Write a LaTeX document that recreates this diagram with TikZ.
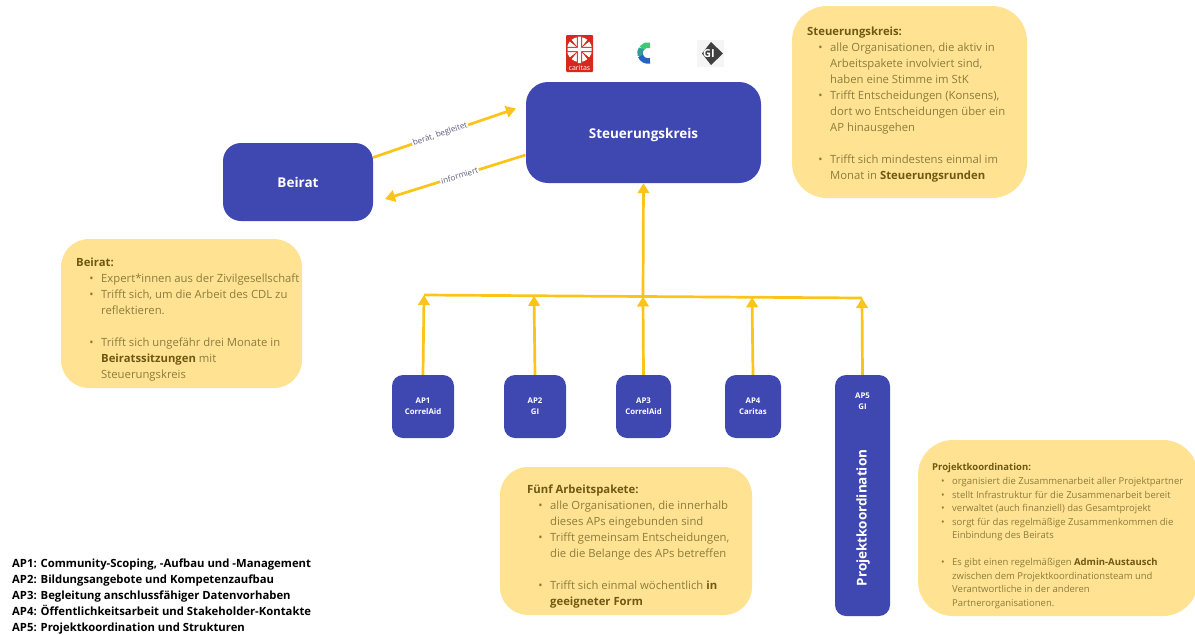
\documentclass[tikz,border=0pt]{standalone}
\usepackage{fontspec}
\setmainfont{Open Sans}
\usetikzlibrary{arrows.meta}
\definecolor{navy}{HTML}{3F48B0}
\definecolor{notefill}{HTML}{FFE393}
\definecolor{notetext}{HTML}{8C7C3C}
\definecolor{notebold}{HTML}{6E5812}
\definecolor{linkc}{HTML}{FCC419}
\definecolor{labelc}{HTML}{5E6080}
\definecolor{carred}{HTML}{D8281E}
\newcommand{\hd}[1]{{\bfseries\color{notebold}#1}}
\newcommand{\bl}{\makebox[0pt][r]{\raisebox{0pt}{\textbullet}\hspace{7.5pt}}}
\tikzset{
  x=1pt,y=-1pt,
  bluebox/.style={fill=navy,text=white,font=\bfseries\fontsize{#1}{#1}\selectfont,align=center,inner sep=0pt},
  notebox/.style={fill=notefill,inner sep=0pt},
  notetxt/.style={anchor=north west,inner sep=0pt,align=left,text=notetext,font=\fontsize{11.3}{16}\selectfont},
  smalltxt/.style={anchor=north west,inner sep=0pt,align=left,text=notetext,font=\fontsize{9.5}{13.55}\selectfont},
  link/.style={draw=linkc,line width=2.7pt,-{Triangle[length=10pt,width=11.5pt]}},
  bar/.style={draw=linkc,line width=2.7pt},
  edgelabel/.style={fill=white,text=labelc,inner sep=1pt,font=\fontsize{8.1}{10}\selectfont}
}
\begin{document}
\begin{tikzpicture}
\useasboundingbox (0,0) rectangle (1195,635);
\fill[white] (0,0) rectangle (1195,635);

% yellow note boxes
\node[notebox,rounded corners=35pt,minimum width=235pt,minimum height=192pt] (nstk) at (909.5,102) {};
\node[notebox,rounded corners=28pt,minimum width=241pt,minimum height=149pt] (nbei) at (181.5,313.5) {};
\node[notebox,rounded corners=28pt,minimum width=252pt,minimum height=148pt] (nfue) at (626,541) {};
\node[notebox,rounded corners=35pt,minimum width=280pt,minimum height=176pt] (npk) at (1058,528) {};

% blue boxes
\node[bluebox=13.5,rounded corners=22pt,minimum width=235pt,minimum height=101pt] (stk) at (643.5,132.5) {};
\node[text=white,inner sep=0pt,font=\bfseries\fontsize{13.5}{13.5}\selectfont] (stkt) at (643.5,134.5) {Steuerungskreis};
\node[bluebox=13.5,rounded corners=18pt,minimum width=150pt,minimum height=78pt] (bei) at (298,182) {};
\node[text=white,inner sep=0pt,font=\bfseries\fontsize{13.5}{13.5}\selectfont] (beit) at (298,182.5) {Beirat};
\node[bluebox=7.8,rounded corners=11pt,minimum width=62pt,minimum height=63pt] (ap1) at (423,406.5) {AP1\\[3pt]CorrelAid};
\node[bluebox=7.8,rounded corners=11pt,minimum width=62pt,minimum height=63pt] (ap2) at (535,406.5) {AP2\\[3pt]GI};
\node[bluebox=7.8,rounded corners=11pt,minimum width=55pt,minimum height=63pt] (ap3) at (643.5,406.5) {AP3\\[3pt]CorrelAid};
\node[bluebox=7.8,rounded corners=11pt,minimum width=56pt,minimum height=63pt] (ap4) at (753,406.5) {AP4\\[3pt]Caritas};
\node[bluebox=7.8,rounded corners=11pt,minimum width=55pt,minimum height=241pt] (ap5) at (862.5,495.5) {};
\node[text=white,align=center,inner sep=0pt,font=\bfseries\fontsize{7.8}{7.8}\selectfont] (ap5t) at (862.5,401) {AP5\\[3pt]GI};
\node[text=white,inner sep=0pt,rotate=90,font=\bfseries\fontsize{13.5}{14}\selectfont] (pk) at (863,518) {Projektkoordination};

% connectors
\coordinate (hub1) at (424,295);
\coordinate (hub2) at (534,295.8);
\coordinate (hub3) at (643,296.5);
\coordinate (hub4) at (752,297.3);
\coordinate (hub5) at (862,298);
\draw[bar] (hub1) -- (hub5);
\draw[link] (ap1.north) -- (hub1);
\draw[link] (ap2.north) -- (hub2);
\draw[link] (ap3.north) -- (hub3);
\draw[link] (ap4.north) -- (hub4);
\draw[link] (ap5.north) -- (hub5);
\draw[link] (hub3) -- (stk.south);
\coordinate (bs) at (373,157.5);
\coordinate (be) at (516,108.5);
\coordinate (is) at (525.5,155);
\coordinate (ie) at (385,199);
\draw[link] (bs) -- node[edgelabel,sloped,pos=.47] (lb) {berät, begleitet} (be);
\draw[link] (is) -- node[edgelabel,sloped,pos=.47] (li) {informiert} (ie);

% logos
\fill[carred,rounded corners=1pt] (566,35) rectangle (593,72);
\foreach \a in {0,45,...,315}{\fill[white] (579.5,49.5)++(\a+6:12.5) arc[start angle=\a+6,end angle=\a+39,radius=12.5] -- (579.5,49.5) -- cycle;}
\fill[carred] (576.8,36) rectangle (582.2,63.5) (567,46.8) rectangle (592,52.2);
\fill[white] (577.8,36.5) rectangle (581.2,63) (567.5,47.8) rectangle (591.5,51.2);
\node[text=white,inner sep=0pt,font=\fontsize{7}{6}\selectfont] (carit) at (579.5,67.5) {caritas};
\draw[line width=5.5pt,color=green!45!teal!75!white] (648,53) ++(285:8) arc[start angle=285,end angle=215,radius=8];
\draw[line width=5.5pt,color=teal!80!white] (648,53) ++(215:8) arc[start angle=215,end angle=160,radius=8];
\draw[line width=5.5pt,color=blue!45!teal!85!white] (648,53) ++(160:8) arc[start angle=160,end angle=75,radius=8];
\fill[gray!8] (697,40) rectangle (724,67);
\fill[black!75] (711,42) -- (723,53.5) -- (711,65) -- (702,53.5) -- cycle;
\node[text=white,inner sep=0pt,font=\bfseries\fontsize{11}{9}\selectfont] (gi) at (709,53.5) {GI};

% note texts
\node[notetxt] (tstk) at (807,26.7) {\hd{Steuerungskreis:}\\
\hspace{23pt}\bl alle Organisationen, die aktiv in\\
\hspace{23pt}Arbeitspakete involviert sind,\\
\hspace{23pt}haben eine Stimme im StK\\
\hspace{23pt}\bl Trifft Entscheidungen (Konsens),\\
\hspace{23pt}dort wo Entscheidungen über ein\\
\hspace{23pt}AP hinausgehen\\[16pt]
\hspace{23pt}\bl Trifft sich mindestens einmal im\\
\hspace{23pt}Monat in \hd{Steuerungsrunden}};

\node[notetxt] (tbei) at (76,258) {\hd{Beirat:}\\
\hspace{25pt}\bl Expert*innen aus der Zivilgesellschaft\\
\hspace{25pt}\bl Trifft sich, um die Arbeit des CDL zu\\
\hspace{25pt}reflektieren.\\[16pt]
\hspace{25pt}\bl Trifft sich ungefähr drei Monate in\\
\hspace{25pt}\hd{Beiratssitzungen} mit\\
\hspace{25pt}Steuerungskreis};

\node[notetxt] (tfue) at (527,485) {\hd{Fünf Arbeitspakete:}\\
\hspace{23pt}\bl alle Organisationen, die innerhalb\\
\hspace{23pt}dieses APs eingebunden sind\\
\hspace{23pt}\bl Trifft gemeinsam Entscheidungen,\\
\hspace{23pt}die die Belange des APs betreffen\\[16pt]
\hspace{23pt}\bl Trifft sich einmal wöchentlich \hd{in}\\
\hspace{23pt}\hd{geeigneter Form}};

\node[smalltxt] (tpk) at (932,463.5) {\hd{Projektkoordination:}\\
\hspace{20pt}\bl organisiert die Zusammenarbeit aller Projektpartner\\
\hspace{20pt}\bl stellt Infrastruktur für die Zusammenarbeit bereit\\
\hspace{20pt}\bl verwaltet (auch finanziell) das Gesamtprojekt\\
\hspace{20pt}\bl sorgt für das regelmäßige Zusammenkommen die\\
\hspace{20pt}Einbindung des Beirats\\[13.55pt]
\hspace{20pt}\bl Es gibt einen regelmäßigen \hd{Admin-Austausch}\\
\hspace{20pt}zwischen dem Projektkoordinationsteam und\\
\hspace{20pt}Verantwortliche in der anderen\\
\hspace{20pt}Partnerorganisationen.};

\node[anchor=north west,inner sep=0pt,align=left,text=black,font=\bfseries\fontsize{11.3}{16}\selectfont] (legend) at (12,559) {AP1: Community-Scoping, -Aufbau und -Management\\
AP2: Bildungsangebote und Kompetenzaufbau\\
AP3: Begleitung anschlussfähiger Datenvorhaben\\
AP4: Öffentlichkeitsarbeit und Stakeholder-Kontakte\\
AP5: Projektkoordination und Strukturen};
\end{tikzpicture}
\end{document}
